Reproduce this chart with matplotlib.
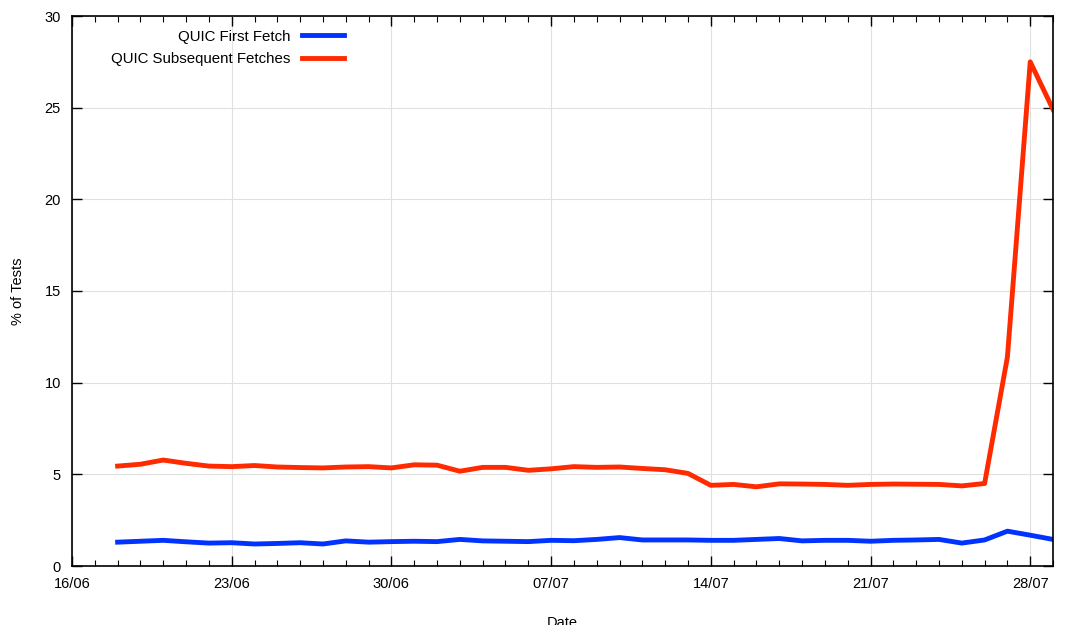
import numpy as np
import pandas as pd
import matplotlib
matplotlib.use("Agg")
import matplotlib.pyplot as plt
import matplotlib.dates as mdates

plt.rcParams['font.family'] = ['Liberation Sans', 'DejaVu Sans']

dates = pd.date_range("2015-06-18", "2015-07-29", freq="D")

first_fetch = [1.30, 1.35, 1.40, 1.32, 1.25, 1.27, 1.20, 1.23, 1.27, 1.20,
               1.37, 1.30, 1.33, 1.35, 1.33, 1.45, 1.37, 1.35, 1.33, 1.40,
               1.38, 1.45, 1.55, 1.42, 1.42, 1.42, 1.40, 1.40, 1.45, 1.50,
               1.37, 1.40, 1.40, 1.35, 1.40, 1.42, 1.45, 1.25, 1.42, 1.90,
               1.68, 1.45]
subsequent = [5.45, 5.55, 5.78, 5.60, 5.45, 5.42, 5.48, 5.40, 5.37, 5.35,
              5.40, 5.42, 5.35, 5.52, 5.50, 5.17, 5.38, 5.38, 5.22, 5.30,
              5.42, 5.38, 5.40, 5.32, 5.25, 5.05, 4.40, 4.45, 4.32, 4.48,
              4.47, 4.45, 4.40, 4.45, 4.47, 4.46, 4.45, 4.37, 4.50, 11.40,
              27.50, 24.90]

fig = plt.figure(figsize=(10.68, 6.25), dpi=100)
ax = fig.add_axes([0.0674, 0.0944, 0.9186, 0.88])

ax.plot(dates, first_fetch, color='#0033ff', lw=3.5, label='QUIC First Fetch')
ax.plot(dates, subsequent, color='#ff2a00', lw=3.5, label='QUIC Subsequent Fetches')

ax.set_xlim(pd.Timestamp("2015-06-16"), pd.Timestamp("2015-07-29"))
ax.set_ylim(0, 30)
ax.set_xticks(pd.date_range("2015-06-16", "2015-07-28", freq="7D"))
ax.xaxis.set_major_formatter(mdates.DateFormatter("%d/%m"))
ax.xaxis.set_minor_locator(mdates.DayLocator())
ax.set_yticks(np.arange(0, 31, 5))

ax.grid(True, which='major', color='#e0e0e0', lw=0.8)
ax.set_axisbelow(True)
ax.tick_params(which='both', direction='in', top=True, right=True, labelsize=10.5, pad=8)
ax.tick_params(which='major', length=7, width=1)
ax.tick_params(which='minor', length=4, width=0.8)
for s in ax.spines.values():
    s.set_linewidth(1.2)

ax.set_xlabel('Date', fontsize=10.5, labelpad=18)
ax.set_ylabel('% of Tests', fontsize=10.5, labelpad=14)

ax.legend(loc='upper left', bbox_to_anchor=(0.026, 1.0), markerfirst=False, frameon=False,
          fontsize=10.8, handlelength=2.8, labelspacing=0.55)

fig.savefig("out.png", dpi=100)
